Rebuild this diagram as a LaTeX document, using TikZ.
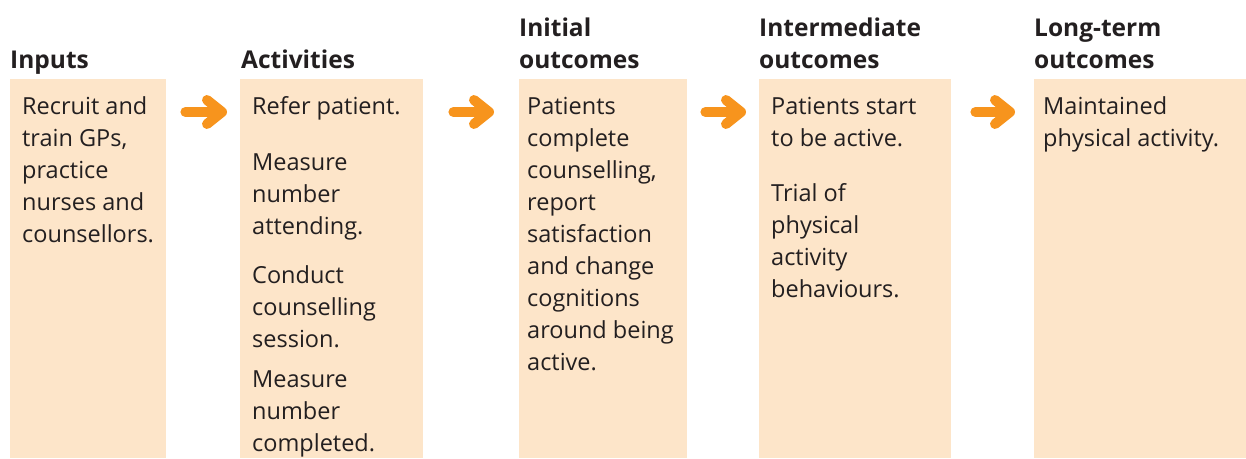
\documentclass[tikz,border=0pt]{standalone}
\usepackage{fontspec}
\setmainfont{Open Sans}
\usetikzlibrary{arrows.meta}
\definecolor{boxfill}{HTML}{FDE5C9}
\definecolor{arroworange}{HTML}{F7941D}
\definecolor{textgrey}{HTML}{231F20}
\begin{document}
\begin{tikzpicture}[x=1pt,y=-1pt,line join=round,line cap=round,
	box/.style={fill=boxfill,anchor=north west,inner sep=0pt,minimum height=379pt},
	head/.style={anchor=base west,inner sep=0pt,align=left,text=textgrey,font=\fontsize{24.5}{32}\selectfont\bfseries},
	body/.style={anchor=base west,inner sep=0pt,align=left,text=textgrey,font=\fontsize{23.5}{32}\selectfont},
	flowarrow/.style={draw=arroworange,line width=10pt,-{Straight Barb[round,length=15pt,width=24pt]}}]
		\useasboundingbox (0,0) rectangle (1246,458);
		% columns
		\node[box,minimum width=156pt] (inputs) at (10,79) {};
		\node[box,minimum width=183pt] (activities) at (240,79) {};
		\node[box,minimum width=168pt] (initial) at (519,79) {};
		\node[box,minimum width=192pt] (intermediate) at (759,79) {};
		\node[box,minimum width=212pt] (longterm) at (1034,79) {};
		% headings (placed at the baseline of their last line)
		\node[head] (inputs-h) at (10,68) {Inputs};
		\node[head] (activities-h) at (241,68) {Activities};
		\node[head] (initial-h) at (519,68) {Initial\\outcomes};
		\node[head] (intermediate-h) at (759,68) {Intermediate\\outcomes};
		\node[head] (longterm-h) at (1034,68) {Long-term\\outcomes};
		% texts
		\node[body] (inputs-t) at (22,242) {Recruit and\\train GPs,\\practice\\nurses and\\counsellors.};
		\node[body] (refer) at (252,114) {Refer patient.};
		\node[body] (attending) at (252,234) {Measure\\number\\attending.};
		\node[body] (session) at (252,347) {Conduct\\counselling\\session.};
		\node[body] (completed) at (252,451) {Measure\\number\\completed.};
		\node[body] (initial-t) at (527,370) {Patients\\complete\\counselling,\\report\\satisfaction\\and change\\cognitions\\around being\\active.};
		\node[body] (start) at (771,146) {Patients start\\to be active.};
		\node[body] (trial) at (771,297) {Trial of\\physical\\activity\\behaviours.};
		\node[body] (longterm-t) at (1043,146) {Maintained\\physical activity.};
		% arrows
		\foreach \a/\b/\s/\t in {inputs/activities/19/13,activities/initial/30/25,initial/intermediate/18/13,intermediate/longterm/24/19}
			\draw[flowarrow,shorten <=\s pt,shorten >=\t pt] ([yshift=-33pt]\a.north east) -- ([yshift=-33pt]\b.north west);
\end{tikzpicture}
\end{document}
